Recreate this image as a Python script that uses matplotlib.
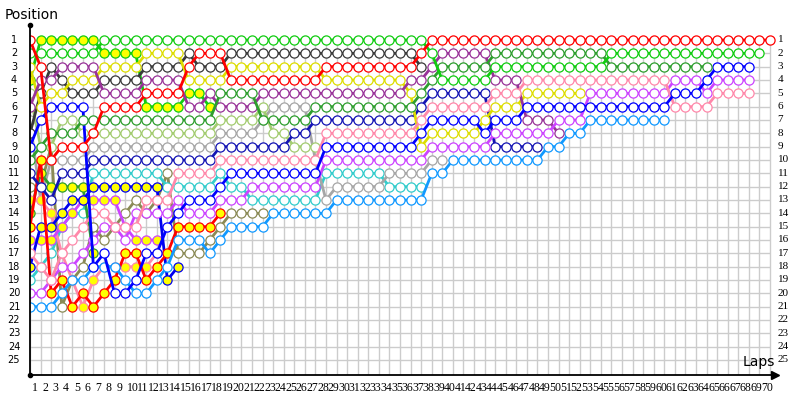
import matplotlib
matplotlib.use("Agg")
import matplotlib.pyplot as plt

# lap chart: position of every car at the end of each lap (index 0 = grid)
# each team has one colour; the second driver of a team gets yellow markers

red = [1, 3, 10, 9, 9, 9, 8, 6, 6, 6, 6, 5, 5, 5, 5, 3, 2, 2, 2,
       4, 4, 4, 4, 4, 4, 4, 4, 4, 3, 3, 3, 3, 3, 3, 3, 3, 3, 2,
       1, 1, 1, 1, 1, 1, 1, 1, 1, 1, 1, 1, 1, 1, 1, 1, 1, 1, 1, 1, 1, 1, 1,
       1, 1, 1, 1, 1, 1, 1, 1, 1, 1]
red_y = [15, 10, 20, 19, 21, 20, 21, 20, 19, 17, 17, 19, 18, 17, 15, 15, 15, 15, 14]

lime = [2, 2, 2, 2, 2, 2, 2,
        1, 1, 1, 1, 1, 1, 1, 1, 1, 1, 1, 1, 1, 1, 1, 1, 1, 1, 1, 1, 1, 1, 1, 1,
        1, 1, 1, 1, 1, 1, 1,
        2, 4, 4, 4, 4, 4, 3, 3, 3, 3, 3, 3, 3, 3, 3, 3, 3,
        2, 2, 2, 2, 2, 2, 2, 2, 2, 2, 2, 2, 2, 2, 2]
lime_y = [4, 1, 1, 1, 1, 1, 1, 2, 2, 2, 2, 6, 6, 6, 6, 5, 5, 6]

yellow = [3, 6, 5, 5, 4, 4, 4, 3, 3, 3, 3, 2, 2, 2, 2, 4, 4, 4, 4,
          3, 3, 3, 3, 3, 3, 3, 3, 3, 4, 4, 4, 4, 4, 4, 4, 4, 5, 9,
          8, 8, 8, 8, 8, 7, 6, 6, 6, 5, 5, 5, 5, 5, 5]

purple = [6, 4, 4, 3, 3, 3, 3, 5, 5, 5, 5, 4, 4, 4, 4, 6, 6, 5, 6, 6, 6, 6,
          5, 5, 5, 5, 5, 5, 5, 5, 5, 5, 5, 5, 5, 5, 4, 4,
          3, 2, 2, 2, 2, 2, 4, 4, 4, 7, 7, 7, 8]

dkgray = [8, 5, 3, 4, 5, 5, 5, 4, 4, 4, 4, 3, 3, 3, 3, 2, 3, 3, 3,
          2, 2, 2, 2, 2, 2, 2, 2, 2, 2, 2, 2, 2, 2, 2, 2, 2, 2, 3]

dkgreen = [10, 9, 8, 8, 8, 7, 7, 7, 7, 7, 7, 7, 7, 7, 7, 7, 7, 7,
           5, 5, 5, 5, 7, 7, 7, 7, 7, 6, 6, 6, 6, 6, 6, 6, 6, 6, 6, 5,
           4, 3, 3, 3, 3, 3, 2, 2, 2, 2, 2, 2, 2, 2, 2, 2, 2,
           3, 3, 3, 3, 3, 3, 3, 3, 3, 3]
dkgreen_y = [14, 11, 12, 12, 12, 12, 17]

ltgreen = [5, 9, 9, 7, 7, 8, 8, 8, 8, 8, 8, 8, 8, 8, 8, 8, 8, 8,
           7, 7, 7, 7, 6, 8, 8, 9, 9, 9]

gray = [7, 13, 10, 10, 10, 10, 9, 9, 9, 9, 9, 9, 9, 9, 9, 9, 9, 9,
        8, 8, 8, 8, 7, 6, 6, 6, 6, 10, 13, 12, 12, 12, 12, 12,
        11, 11, 11, 11, 10, 10]

blue = [9, 7, 6, 6, 6, 6, 18, 17, 20, 20, 19, 17, 17, 15, 14, 13, 13, 13, 12,
        11, 11, 11, 11, 11, 11, 11, 11, 11, 9, 9, 9, 9, 9, 9, 9, 9, 9, 8,
        7, 7, 7, 7, 7, 8, 7, 7, 7, 6, 6, 6, 6, 6, 6, 6, 6, 6, 6, 6, 6, 6, 6,
        5, 5, 5, 4, 3, 3, 3, 3]
blue_y = [18, 15, 15, 14, 13, 13, 12, 12, 12, 12, 12, 12, 12, 19, 18]

navy = [11, 12, 13, 11, 11, 11, 10, 10, 10, 10, 10, 10, 10, 10, 10, 10, 10, 10,
        9, 9, 9, 9, 9, 9, 9, 8, 8, 7, 7, 7, 7, 7, 7, 7, 7, 7, 7, 6,
        5, 5, 5, 5, 5, 5, 9, 9, 9, 9, 9]

pink = [17, 18, 19, 17, 16, 15, 14, 14, 15, 15, 15, 13, 13, 13, 11, 11, 11, 11,
        10, 10, 10, 10, 10, 10, 10, 10, 10, 10, 8, 8, 8, 8, 8, 8, 8, 8, 8, 7,
        6, 6, 6, 6, 6, 6, 5, 5, 5, 4, 4, 4, 4, 4, 4, 4, 4, 4, 4, 4, 4, 4, 4,
        6, 6, 6, 6, 5, 5, 5, 5]
pink_y = [13, 13, 14, 17, 19, 21, 19, 18, 18, 18, 18, 18, 17]

violet = [20, 20, 19, 18, 18, 17, 16, 15, 15, 16, 14, 14, 14, 14, 13, 14, 14, 14,
          13, 13, 13, 12, 12, 12, 12, 12, 12, 12, 10, 10, 10, 10, 10, 10, 10, 10,
          10, 10, 9, 9, 9, 9, 9, 9, 8, 8, 8, 8, 8, 8, 7, 7, 7,
          5, 5, 5, 5, 5, 5, 5, 5, 4, 4, 4, 5, 4, 4, 4, 4]
violet_y = [16, 16, 16, 15, 14, 13, 13, 13, 13, 15, 16, 16, 16]

cyan = [19, 18, 17, 15, 14, 14, 11, 11, 11, 11, 11, 11, 11, 12, 12, 12, 12, 12,
        11, 12, 12, 13, 13, 13, 13, 13, 13, 13, 11, 11, 11, 11, 11, 11,
        12, 12, 12, 12]

ltblue = [21, 21, 21, 20, 19, 19, 18, 18, 18, 19, 20, 20, 19, 18, 16, 16, 16, 17,
          16, 15, 15, 15, 15, 14, 14, 14, 14, 14, 14, 13, 13, 13, 13, 13, 13, 13,
          13, 13, 11, 11, 10, 10, 10, 10, 10, 10, 10, 10, 10, 9, 9, 8, 8,
          7, 7, 7, 7, 7, 7, 7, 7]

olive = [12, 12, 9, 21, 19, 18, 15, 16, 15, 14, 13, 14, 13, 11, 17, 17, 17, 16,
         15, 14, 14, 14, 14]

# (positions, team colour, yellow markers)
cars = [
    (olive, "#8a8a55", False),
    (cyan, "#33cccc", False),
    (gray, "#a6a6a6", False),
    (ltgreen, "#a3cc70", False),
    (dkgreen_y, "#2e9e2e", True),
    (pink_y, "#ff88aa", True),
    (violet_y, "#cc44ff", True),
    (blue_y, "#0000ee", True),
    (red_y, "#ff0000", True),
    (lime_y, "#11cc11", True),
    (dkgray, "#3a3a3a", False),
    (navy, "#1414b4", False),
    (ltblue, "#1199ff", False),
    (yellow, "#dddd00", False),
    (purple, "#993399", False),
    (violet, "#cc44ff", False),
    (pink, "#ff88aa", False),
    (blue, "#0000ff", False),
    (dkgreen, "#2e9e2e", False),
    (lime, "#11cc11", False),
    (red, "#ff0000", False),
]

n_laps = 70
n_pos = 25

fig = plt.figure(figsize=(8, 4), dpi=100)
ax = fig.add_axes([30 / 800, 25 / 400, 747 / 800, 350 / 400])
ax.set_xlim(0, 70.66)
ax.set_ylim(26.125, -0.125)

# grid
ax.vlines(range(n_laps + 1), 1, 26.125, color="#cccccc", lw=1, zorder=0)
ax.hlines(range(1, n_pos + 1), 0, n_laps, color="#cccccc", lw=1, zorder=0)

for pos, col, yel in cars:
    laps = list(range(len(pos)))
    ax.plot(laps, pos, color=col, lw=2.0, marker="o", ms=6.6, mew=0.9,
            mec=col, mfc="#ffff00" if yel else "white", zorder=2)

# axes lines
for s in ("top", "right"):
    ax.spines[s].set_visible(False)
for s in ("left", "bottom"):
    ax.spines[s].set_color("black")
    ax.spines[s].set_linewidth(1.3)
ax.set_xticks([])
ax.set_yticks([])
ax.plot(0, -0.125, "o", color="black", ms=3, clip_on=False, zorder=5)
ax.plot(0, 26.125, "o", color="black", ms=3, clip_on=False, zorder=5)
ax.plot(70.5, 26.125, ">", color="black", ms=6, clip_on=False, zorder=5)

# position labels on both sides
for p in range(1, n_pos + 1):
    ax.text(-16 / 747, p, str(p), transform=ax.get_yaxis_transform(),
            ha="center", va="center", fontsize=7, family="DejaVu Sans")
    ax.text(1.001, p, str(p), transform=ax.get_yaxis_transform(),
            ha="left", va="center", fontsize=8, family="Liberation Serif")

# lap labels
for i in range(1, n_laps + 1):
    ax.text(i - 1 + 0.15, -13 / 350, str(i), transform=ax.get_xaxis_transform(),
            ha="left", va="center", fontsize=8.5, family="Liberation Serif")

fig.text(5 / 800, 1 - 15 / 400, "Position", fontsize=10, va="center",
         family="DejaVu Sans")
fig.text(775 / 800, 1 - 362 / 400, "Laps", fontsize=10, va="center",
         ha="right", family="DejaVu Sans")

fig.savefig("out.png", dpi=100)
